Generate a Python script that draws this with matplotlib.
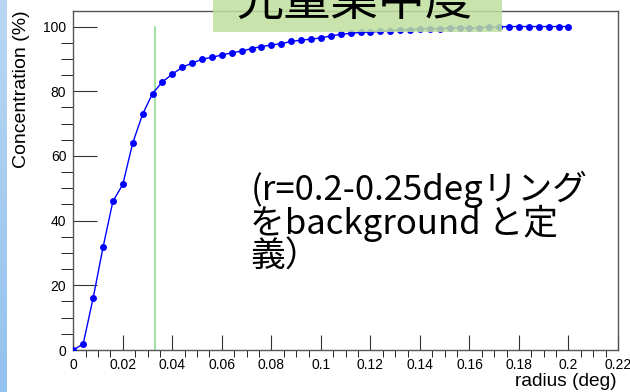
import numpy as np
import matplotlib.pyplot as plt
from matplotlib.patches import Rectangle
from matplotlib.colors import LinearSegmentedColormap
from matplotlib.ticker import MultipleLocator, FuncFormatter

# radius (deg) and cumulative concentration (%)
radius = [round(0.004 * i, 3) for i in range(51)]
concentration = [
    0.0, 1.9, 16.0, 31.7, 46.0, 51.2, 64.0, 72.9, 79.3, 82.9,
    85.3, 87.4, 88.7, 89.9, 90.5, 91.2, 91.9, 92.4, 93.2, 93.8,
    94.3, 94.7, 95.4, 95.8, 96.1, 96.5, 97.1, 97.6, 97.9, 98.2,
    98.3, 98.5, 98.6, 99.0, 99.0, 99.3, 99.3, 99.3, 99.6, 99.6,
    99.6, 99.6, 99.9, 99.9, 100.0, 100.0, 100.0, 100.0, 100.0, 100.0,
    100.0,
]
cut_radius = 0.033

title = "光量集中度"
note = "(r=0.2-0.25degリング\nをbackground と定\n義）"

fig = plt.figure(figsize=(6.3, 3.92), dpi=100)

# light-blue slide strip on the left edge
grad = np.linspace(0, 1, 100).reshape(-1, 1)
strip = fig.add_axes([0, 0, 6 / 630, 1])
strip.imshow(grad, aspect="auto", extent=[0, 1, 0, 1], origin="lower",
             cmap=LinearSegmentedColormap.from_list("strip", ["#93c2ed", "#b9d7f4"]))
strip.axis("off")

ax = fig.add_axes([73.3 / 630, 1 - 350 / 392, (618 - 73.3) / 630, (350 - 10.7) / 392])
ax.plot(radius, concentration, color="#0000ff", lw=1.0, marker="o", ms=5,
        markeredgewidth=0, zorder=3)
ax.plot([cut_radius, cut_radius], [0, 100], color="#90e090", lw=1.2, zorder=2)

ax.set_xlim(0, 0.22)
ax.set_ylim(0, 104.9)
ax.xaxis.set_major_locator(MultipleLocator(0.02))
ax.xaxis.set_minor_locator(MultipleLocator(0.005))
ax.yaxis.set_major_locator(MultipleLocator(20))
ax.yaxis.set_minor_locator(MultipleLocator(5))
ax.xaxis.set_major_formatter(FuncFormatter(lambda v, p: f"{v:g}"))
ax.tick_params(axis="both", direction="in", colors="#333333", labelsize=10,
               labelcolor="black")
ax.tick_params(axis="x", which="major", length=11, pad=6)
ax.tick_params(axis="x", which="minor", length=5)
ax.tick_params(axis="y", which="major", length=17, pad=5)
ax.tick_params(axis="y", which="minor", length=9)
ax.tick_params(top=False, right=False, which="both")
for lbl in ax.get_xticklabels() + ax.get_yticklabels():
    lbl.set_family("Liberation Sans")
for s in ax.spines.values():
    s.set_color("#555555")
    s.set_linewidth(1.0)

fig.text(617 / 630, 1 - 381 / 392, "radius (deg)", ha="right", va="center",
         fontsize=13.8, family="Liberation Sans")
fig.text(22 / 630, 1 - 10 / 392, "Concentration (%)", ha="center", va="top",
         rotation=90, fontsize=14, family="Liberation Sans")

ax.text(0.0715, 55.5, note, fontsize=25, va="top", ha="left", linespacing=0.9,
        family=["Noto Sans CJK JP", "DejaVu Sans"])

# green title box, cut at the top of the slide
fig.patches.append(Rectangle((213.3 / 630, 1 - 31.7 / 392), (501.7 - 213.3) / 630,
                             31.7 / 392, transform=fig.transFigure,
                             facecolor="#bfe09e", alpha=0.85, edgecolor="none",
                             zorder=10))
fig.text(355 / 630, 1 - 15 / 392, title, ha="center", va="baseline", fontsize=34,
         family=["Noto Sans CJK JP", "DejaVu Sans"], zorder=11)

fig.savefig("out.png", dpi=100)
